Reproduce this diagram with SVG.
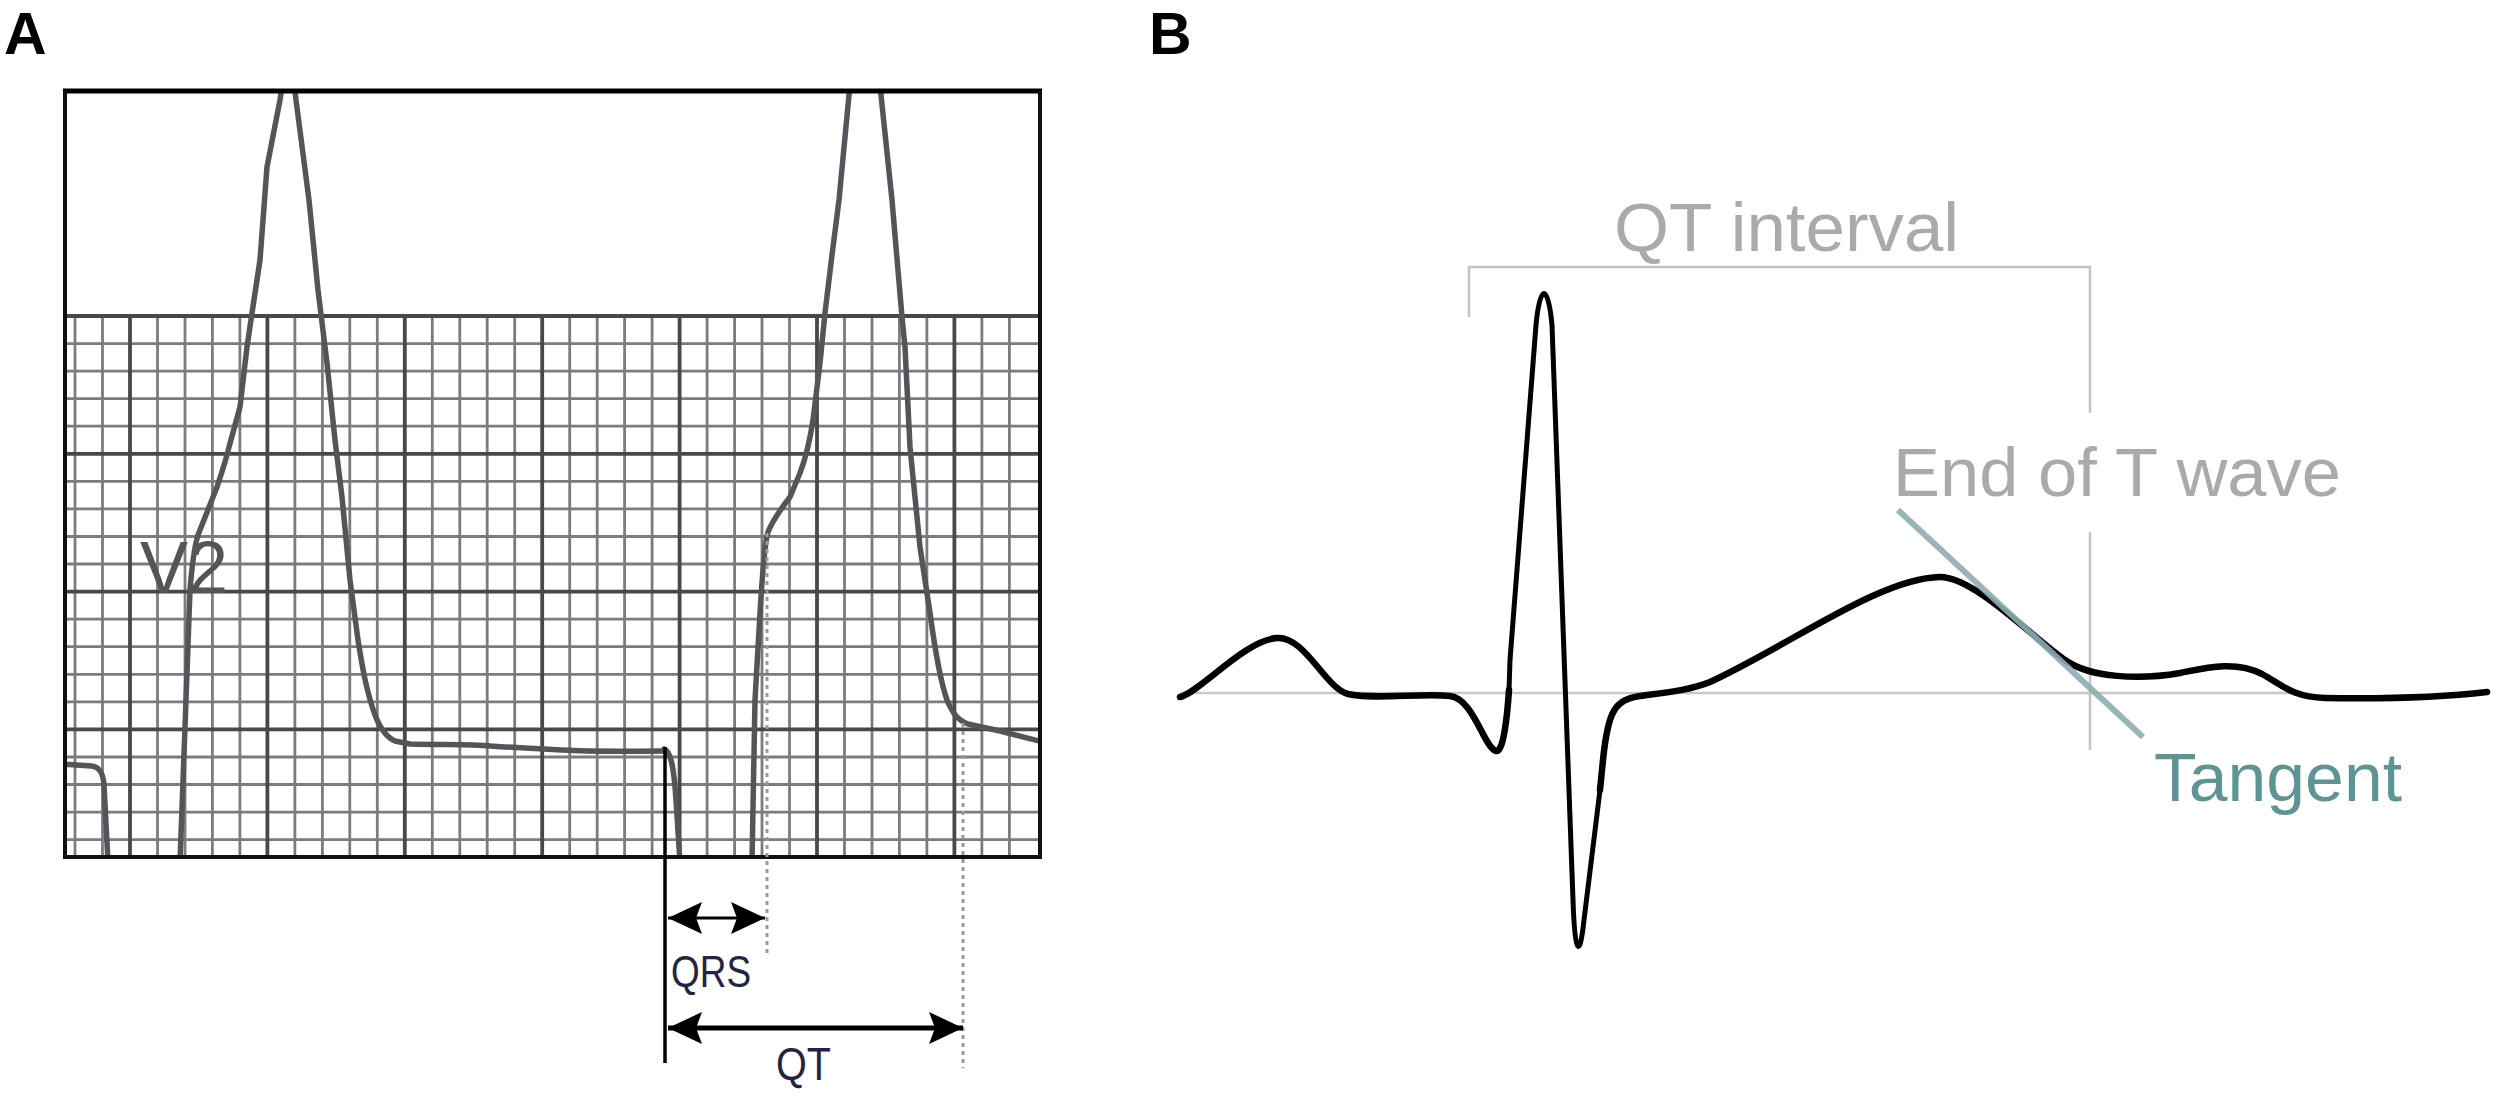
<svg xmlns="http://www.w3.org/2000/svg" width="2500" height="1098" viewBox="0 0 2500 1098">
  <style>
    .panel { font-family: "Liberation Sans", Arial, sans-serif; font-weight: bold; font-size: 59px; fill: #000; }
    .gminor { fill: none; stroke: #7c7c7c; stroke-width: 2.8; }
    .gmajor { fill: none; stroke: #484848; stroke-width: 3.8; }
    .traceA { fill: none; stroke: #56535b; stroke-width: 5.5; stroke-linejoin: round; stroke-linecap: round; }
    .traceB { fill: none; stroke: #000; stroke-width: 6.5; stroke-linejoin: round; stroke-linecap: round; }
    .spike { fill: none; stroke: #000; stroke-width: 5; stroke-linejoin: round; stroke-linecap: round; }
    .dotted { fill: none; stroke: #9a9a9a; stroke-width: 3; stroke-dasharray: 4 4; }
    .lblA { font-family: "Liberation Sans", Arial, sans-serif; fill: #24243e; }
    .lblB { font-family: "Liberation Sans", Arial, sans-serif; font-size: 68px; fill: #aaaaaa; }
    .bracket { fill: none; stroke: #c4c4c4; stroke-width: 2.5; }
  </style>
  <defs>
    <clipPath id="boxclip"><rect x="65" y="91" width="975" height="766"/></clipPath>
    <marker id="ah" markerUnits="userSpaceOnUse" markerWidth="36" markerHeight="36" refX="34" refY="17" orient="auto-start-reverse">
      <path d="M0,1 L34,17 L0,33 L6,17 Z" fill="#000"/>
    </marker>
  </defs>
  <rect width="2500" height="1098" fill="#fff"/>

  <text id="label-A" class="panel" x="4" y="54">A</text>
  <text id="label-B" class="panel" x="1149" y="54">B</text>

  <g id="panel-a">
    <g id="ecg-grid">
      <path class="gminor" d="M75,316V857 M102.5,316V857 M157.5,316V857 M185,316V857 M212.4,316V857 M239.9,316V857 M294.9,316V857 M322.4,316V857 M349.8,316V857 M377.3,316V857 M432.3,316V857 M459.8,316V857 M487.2,316V857 M514.7,316V857 M569.7,316V857 M597.2,316V857 M624.6,316V857 M652.1,316V857 M707.1,316V857 M734.6,316V857 M762,316V857 M789.5,316V857 M844.5,316V857 M872,316V857 M899.4,316V857 M926.9,316V857 M981.9,316V857 M1009.4,316V857"/>
      <path class="gminor" d="M65,343.6H1040 M65,371.1H1040 M65,398.7H1040 M65,426.2H1040 M65,481.4H1040 M65,508.9H1040 M65,536.5H1040 M65,564H1040 M65,619.2H1040 M65,646.7H1040 M65,674.3H1040 M65,701.8H1040 M65,757H1040 M65,784.5H1040 M65,812.1H1040 M65,839.6H1040"/>
      <path class="gmajor" d="M130,316V857 M267.4,316V857 M404.8,316V857 M542.2,316V857 M679.6,316V857 M817,316V857 M954.4,316V857 M65,316H1040 M65,453.8H1040 M65,591.6H1040 M65,729.4H1040"/>
    </g>
    <g id="trace-a" clip-path="url(#boxclip)">
      <path class="traceA" d="M62,764 L92,766 C99,767 103,772 104,785 L108,862"/>
      <path class="traceA" d="M180,862 L186,700 L190,590 C192,565 194,548 198,535 L217,487 C222,472 226,460 229,447 L240,407 L247,347 L252,313 L260,260 L267,167 L280,100 C283,80 286,66 289,66 C292,66 294,80 296,100 L309,200 L318,290 L327,363 L335,440 L342,497 L350,580 L358,640 C362,665 366,690 375,715 C380,728 386,737 395,741 L410,744 C440,745 470,744 491,746 C520,748 540,749 562,750 C600,752 630,751 664,751"/>
      <path class="traceA" d="M664,749 C671,751 674,768 676,800 L680,862"/>
      <path class="traceA" d="M752,862 L755,700 L760,613 C762,580 764,545 768,532 C772,522 780,510 790,497 L800,473 C805,460 810,440 813,420 L820,363 L825,313 L832,255 L839,200 L849,95 C851,75 858,55 865,55 C872,55 879,75 881,95 L892,200 L902,317 L905,347 L910,447 L920,547 L930,613 C935,650 940,680 947,700 C952,712 957,720 968,724 L1000,731 L1043,742"/>
    </g>
    <text id="label-v2" x="140" y="593" font-family="Liberation Sans, Arial, sans-serif" font-size="74" fill="#555" textLength="88" lengthAdjust="spacingAndGlyphs">V2</text>
    <g id="frame">
      <path d="M63,91 H1042" stroke="#000" stroke-width="5" fill="none"/>
      <path d="M65,91 V857 H1040 V91" stroke="#111" stroke-width="4" fill="none"/>
    </g>
  </g>

  <g id="connectors">
    <path class="dotted" d="M767,533 V953"/>
    <path class="dotted" d="M963,723 V1068"/>
    <path d="M665,747 V1063" stroke="#000" stroke-width="3.5" fill="none"/>
    <path id="arrow-qrs" d="M668,918 H765" stroke="#000" stroke-width="3" fill="none" marker-start="url(#ah)" marker-end="url(#ah)"/>
    <path id="arrow-qt" d="M668,1028 H963" stroke="#000" stroke-width="5" fill="none" marker-start="url(#ah)" marker-end="url(#ah)"/>
  </g>
  <text id="label-qrs" class="lblA" x="671" y="987" font-size="45" textLength="80" lengthAdjust="spacingAndGlyphs">QRS</text>
  <text id="label-qt" class="lblA" x="776" y="1080" font-size="46" textLength="55" lengthAdjust="spacingAndGlyphs">QT</text>

  <g id="panel-b">
    <path id="isoelectric" d="M1180,693 H2300" stroke="#c8c8c8" stroke-width="2.5" fill="none"/>
    <path id="qt-bracket" class="bracket" d="M1469,317 V267 H2090 V413 M2090,532 V750"/>
    <g id="ecg-b">
      <path class="traceB" d="M1180,697 C1200,692 1245,640 1277,638 C1305,636 1325,688 1348,694 C1375,700 1420,693 1450,696 C1474,699 1484,748 1496,751 C1503,753 1507,720 1509,690"/>
      <path class="spike" d="M1509,690 L1510,660 L1536,325 C1540,283 1548,283 1552,325 L1573,900 C1575,958 1580,958 1584,920 L1600,790"/>
      <path class="traceB" d="M1600,790 L1603,760 C1608,710 1615,700 1640,696 C1670,692 1690,690 1710,682 C1790,645 1880,578 1940,577 C1975,577 2035,640 2065,660 C2090,678 2140,680 2180,673 C2205,668 2235,660 2262,674 C2282,685 2292,697 2325,698 C2390,699 2445,697 2487,692"/>
    </g>
    <path id="tangent" d="M1898,510 L2143,737" stroke="#8fadb2" stroke-width="6" fill="none" opacity="0.9"/>
    <text id="label-qt-interval" class="lblB" x="1614" y="251" textLength="345" lengthAdjust="spacingAndGlyphs">QT interval</text>
    <text id="label-end-t" class="lblB" x="1893" y="496" textLength="448" lengthAdjust="spacingAndGlyphs">End of T wave</text>
    <text id="label-tangent" x="2154" y="801" font-family="Liberation Sans, Arial, sans-serif" font-size="68" fill="#5e9494" textLength="248" lengthAdjust="spacingAndGlyphs">Tangent</text>
  </g>
</svg>
